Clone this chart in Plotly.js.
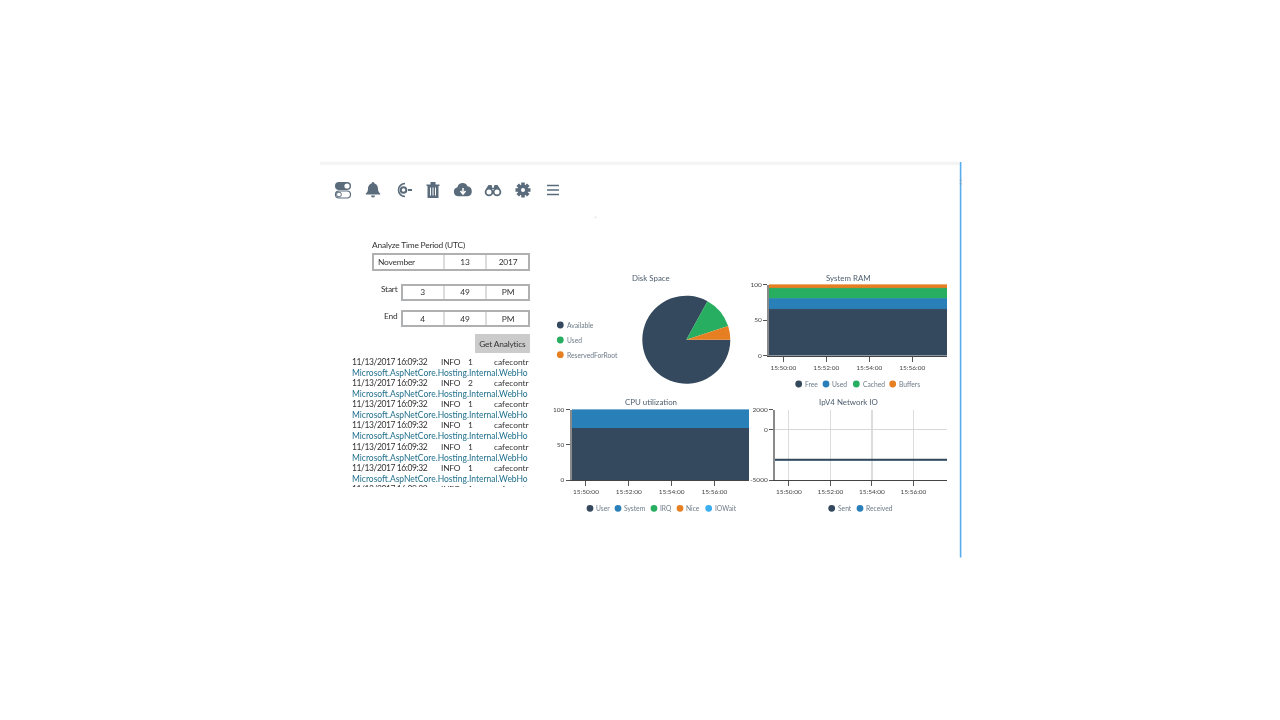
<!DOCTYPE html>
<html><head><meta charset="utf-8">
<script src="https://cdn.plot.ly/plotly-3.0.1.min.js"></script>
<style>
html,body{margin:0;padding:0;background:#fff;overflow:hidden}
#stage{position:relative;width:1280px;height:720px;font-family:Lato,"Noto Sans",sans-serif;filter:blur(.35px)}
#plot{position:absolute;left:0;top:0;width:1280px;height:720px}
#ui{position:absolute;left:0;top:0;width:1280px;height:720px;pointer-events:none;color:#333}
.t{position:absolute;white-space:nowrap;font-size:8.4px;letter-spacing:-.2px;line-height:12px}
.box{position:absolute;box-sizing:border-box;border:2px solid #aeb0b1;background:transparent}
.div{position:absolute;width:2px;background:#dcdcdc}
#log{position:absolute;left:352px;top:355px;width:177px;height:132px;overflow:hidden}
</style></head><body>
<div id="stage"><div id="plot"></div><div id="ui"></div></div>
<script>
const times = ["2017-11-13 15:49:20","2017-11-13 15:50:20","2017-11-13 15:51:20","2017-11-13 15:52:20","2017-11-13 15:53:20","2017-11-13 15:54:20","2017-11-13 15:55:20","2017-11-13 15:56:20","2017-11-13 15:57:37"];
const ramFree    = [65,65,65,65,65,65,65,65,65];
const ramUsed    = [15,15,15,15,15,15,15,15,15];
const ramCached  = [14.5,14.5,14.5,14.5,14.5,14.5,14.5,14.5,14.5];
const ramBuffers = [5.5,5.5,5.5,5.5,5.5,5.5,5.5,5.5,5.5];
const cpuUser    = [73,73,73,73,73,73,73,73,73];
const cpuSystem  = [27,27,27,27,27,27,27,27,27];
const cpuIrq     = [0,0,0,0,0,0,0,0,0];
const cpuNice    = [0,0,0,0,0,0,0,0,0];
const cpuIoWait  = [0,0,0,0,0,0,0,0,0];
const netSent     = [-3000,-3000,-3000,-3000,-3000,-3000,-3000,-3000,-3000];
const netReceived = [-3000,-3000,-3000,-3000,-3000,-3000,-3000,-3000,-3000];
const diskLabels = ["Available","Used","ReservedForRoot"];
const diskValues = [83,12,5];
const ramLabels = ["Free","Used","Cached","Buffers"];
const cpuLabels = ["User","System","IRQ","Nice","IOWait"];
const netLabels = ["Sent","Received"];
const C = {navy:"#34495e",blue:"#2980b9",green:"#27ae60",orange:"#e67e22",sky:"#3aaeef"};
const W=1280,H=720, px=x=>x/W, py=y=>1-y/H;
const RANGE=["2017-11-13 15:49:20","2017-11-13 15:57:37"];
const FONT='Lato,"Noto Sans",sans-serif';

function area(y,name,color,ax,width){return {x:times,y:y,name:name,type:"scatter",mode:"lines",stackgroup:ax,xaxis:"x"+ax,yaxis:"y"+ax,
  line:{color:color,width:width===undefined?1:width},fillcolor:color,hoverinfo:"x+y+name"};}
function line(y,name,color,ax,width){return {x:times,y:y,name:name,type:"scatter",mode:"lines",xaxis:"x"+ax,yaxis:"y"+ax,line:{color:color,width:width}};}
const traces=[
  {type:"pie",labels:diskLabels,values:diskValues,sort:false,direction:"clockwise",rotation:90,textinfo:"none",
   marker:{colors:[C.navy,C.green,C.orange],line:{width:0}},domain:{x:[px(642.3),px(730.3)],y:[py(383.7),py(295.7)]}},
  area(ramFree,ramLabels[0],C.navy,"2"),area(ramUsed,ramLabels[1],C.blue,"2"),area(ramCached,ramLabels[2],C.green,"2"),area(ramBuffers,ramLabels[3],C.orange,"2"),
  area(cpuUser,cpuLabels[0],C.navy,"3"),area(cpuSystem,cpuLabels[1],C.blue,"3"),area(cpuIrq,cpuLabels[2],C.green,"3",0),area(cpuNice,cpuLabels[3],C.orange,"3",0),area(cpuIoWait,cpuLabels[4],C.sky,"3",0),
  line(netReceived,netLabels[1],C.blue,"4",1),line(netSent,netLabels[0],C.navy,"4",2)
];
const tf={family:FONT,size:6.5,color:"#444"};
function xa(l,r,anchor,grid){return {domain:[px(l),px(r)],range:RANGE,type:"date",anchor:anchor,tick0:"2017-11-13 15:50:00",dtick:120000,tickformat:"%H:%M:%S",
  ticks:"outside",ticklen:5,tickwidth:1,tickcolor:"#555",showline:true,linecolor:"#444",linewidth:1,showgrid:grid,gridcolor:"#dcdcdc",gridwidth:1.3,tickfont:tf,zeroline:false,fixedrange:true};}
function ya(t,b,anchor,r,vals,grid){return {domain:[py(b),py(t)],range:r,anchor:anchor,tickmode:"array",tickvals:vals,ticktext:vals.map(String),
  ticks:"outside",ticklen:4,tickwidth:1,tickcolor:"#555",showline:true,linecolor:"#8a8a8a",linewidth:2,showgrid:grid,gridcolor:"#d8d8d8",gridwidth:1,tickfont:tf,zeroline:false,fixedrange:true};}

const annotations=[],shapes=[];
function label(x,y,text,size,color,anchor){annotations.push({xref:"paper",yref:"paper",x:px(x),y:py(y),text:text,showarrow:false,xanchor:anchor||"left",yanchor:"middle",borderpad:0,
  font:{family:FONT,size:size,color:color}});}
function dot(x,y,color){shapes.push({type:"circle",xref:"paper",yref:"paper",x0:px(x-3.4),x1:px(x+3.4),y0:py(y+3.4),y1:py(y-3.4),fillcolor:color,line:{width:0}});}
const TITLE="#4d5d6d",LEG="#6d7b88";
label(650.7,277.5,"Disk Space",7.9,TITLE,"center");
label(848,277.5,"System RAM",7.9,TITLE,"center");
label(650.7,402,"CPU utilization",7.9,TITLE,"center");
label(848,402,"IpV4 Network IO",7.9,TITLE,"center");
function legend(names,cols,dx,dy){names.forEach((n,i)=>{dot(dx[i],dy[i],cols[i]);label(dx[i]+5.3,dy[i],n,6.7,LEG);});}
legend(diskLabels,[C.navy,C.green,C.orange],[560.3,560.3,560.3],[325,340,354.7]);
legend(ramLabels,[C.navy,C.blue,C.green,C.orange],[798.7,826,856.3,892.7],[384,384,384,384]);
legend(cpuLabels,[C.navy,C.blue,C.green,C.orange,C.sky],[590,618,654,680,708.7],[508.3,508.3,508.3,508.3,508.3]);
legend(netLabels,[C.navy,C.blue],[831.7,860],[508.3,508.3]);
// page chrome
function rect(l,t,r,b,c){shapes.push({type:"rect",xref:"paper",yref:"paper",x0:px(l),x1:px(r),y0:py(b),y1:py(t),fillcolor:c,line:{width:0}});}
rect(320,161.7,959.500,165,"#f4f4f4");
rect(959.800,162,961.400,557.500,"#58aeec");
rect(959.800,179.500,961.400,181,"#7f9fb5");
rect(959.800,183,961.400,184.500,"#7f9fb5");
rect(594.500,216.500,596.500,218,"#e6e6e6");

const layout={width:W,height:H,margin:{l:0,r:0,t:0,b:0},paper_bgcolor:"#fff",plot_bgcolor:"#fff",showlegend:false,
  xaxis2:xa(769,947,"y2",false),yaxis2:ya(284.5,355.7,"x2",[0,100],[0,50,100],false),
  xaxis3:xa(571.7,749,"y3",false),yaxis3:ya(409.5,480,"x3",[0,100],[0,50,100],false),
  xaxis4:xa(775,947,"y4",true),yaxis4:ya(409.5,480,"x4",[-5000,2000],[2000,0,-5000],true),
  annotations:annotations,shapes:shapes};
Plotly.newPlot("plot",traces,layout,{displayModeBar:false,staticPlot:true});

// surrounding form
const ui=document.getElementById("ui");
function T(x,y,s,opt){opt=opt||{};const e=document.createElement("div");e.className="t";e.textContent=s;e.style.top=(y-6)+"px";
  if(opt.align==="center"){e.style.left=(x-50)+"px";e.style.width="100px";e.style.textAlign="center";}
  else if(opt.align==="right"){e.style.right=(1280-x)+"px";} else e.style.left=x+"px";
  if(opt.color)e.style.color=opt.color;
  if(opt.size)e.style.fontSize=opt.size+"px";
  if(opt.ls!==undefined)e.style.letterSpacing=opt.ls+"px";
  (opt.parent||ui).appendChild(e);return e;}
function box(l,t,r,b,dividers){const e=document.createElement("div");e.className="box";e.style.cssText=`left:${l}px;top:${t}px;width:${r-l}px;height:${b-t}px`;ui.appendChild(e);
  dividers.forEach(d=>{const v=document.createElement("div");v.className="div";v.style.cssText=`left:${d-1}px;top:${t+2}px;height:${b-t-4}px`;ui.appendChild(v);});}
T(372,245,"Analyze Time Period (UTC)");
box(372,253,530,270.5,[444,486]);T(378,261.5,"November");T(465,261.5,"13",{align:"center"});T(508,261.5,"2017",{align:"center"});
T(397.5,289,"Start",{align:"right"});
box(401,283.5,530,300.5,[444,486]);T(422.5,292,"3",{align:"center"});T(465,292,"49",{align:"center"});T(508,292,"PM",{align:"center"});
T(397.5,316,"End",{align:"right"});
box(401,310,530,327,[444,486]);T(422.5,318.5,"4",{align:"center"});T(465,318.5,"49",{align:"center"});T(508,318.5,"PM",{align:"center"});
const btn=document.createElement("div");btn.style.cssText="position:absolute;left:475px;top:334px;width:55px;height:18.5px;background:#cbcbcb";ui.appendChild(btn);
T(502.3,343.5,"Get Analytics",{align:"center"});

const logLevels=["1","2","1","1","1","1","1"];
const log=document.createElement("div");log.id="log";ui.appendChild(log);
logLevels.forEach((n,i)=>{
  const y0=361.7+i*21.25-355, y1=y0+11;
  T(0,y0,"11/13/2017 16:09:32",{parent:log,size:8.5,ls:-.42});T(89,y0,"INFO",{parent:log});T(116,y0,n,{parent:log});T(142,y0,"cafecontr",{parent:log,ls:0});
  T(0,y1,"Microsoft.AspNetCore.Hosting.Internal.WebHo",{parent:log,color:"#1f6f8b",size:8.5,ls:0});
});

// toolbar icons
const IC="#5a6b7c";
const icons=[
 [343,`<rect x="-8" y="-8" width="16" height="8" rx="4" fill="${IC}"/><circle cx="4" cy="-4" r="2.6" fill="#fff"/><rect x="-7.5" y="1" width="15" height="7" rx="3.5" fill="#fff" stroke="${IC}" stroke-width="1.2"/><circle cx="-4" cy="4.5" r="2.4" fill="none" stroke="${IC}" stroke-width="1"/>`],
 [373,`<path d="M0-8a1.5 1.5 0 0 1 1.5 1.5C4.5-5.5 5-3 5-1c0 2.5 1 3.5 2.2 4.5v1H-7.2v-1C-6 2.500-5 1.500-5-1c0-2 .5-4.500 3.500-5.500A1.500 1.500 0 0 1 0-8zM-2 5.500h4a2 2 0 0 1-4 0z" fill="${IC}"/>`],
 [403,`<path d="M2-6.500A6.500 6.500 0 1 0 2 6.500" fill="none" stroke="${IC}" stroke-width="1.600"/><circle cx="0.500" cy="0" r="2.800" fill="none" stroke="${IC}" stroke-width="2"/><rect x="5" y="-1" width="4" height="2" fill="${IC}"/>`],
 [433,`<path d="M-6.500-5.500h13v1.500h-1V8h-11V-4h-1zM-2.500-8h5v2.500h-5z" fill="${IC}"/><path d="M-2.500-2.500v8M0-2.500v8M2.500-2.500v8" stroke="#fff" stroke-width="1"/>`],
 [463,`<path d="M-4 5.500a4 4 0 0 1-.8-7.900 4.500 4.500 0 0 1 8.600-.8A4.400 4.400 0 0 1 4 5.500z" transform="scale(1.150)" fill="${IC}"/><path d="M0-2v5M-2.500 1 0 4 2.500 1" stroke="#fff" stroke-width="1.500" fill="none"/>`],
 [493,`<circle cx="-4" cy="2" r="3.400" fill="none" stroke="${IC}" stroke-width="1.800"/><circle cx="4" cy="2" r="3.400" fill="none" stroke="${IC}" stroke-width="1.800"/><path d="M-7-1-4.500-5h3l1 3h1l1-3h3L7-1z" fill="${IC}"/>`],
 [523,`<g fill="${IC}"><circle r="5.200"/><rect x="-1.800" y="-7.500" width="3.600" height="15"/><rect x="-1.800" y="-7.500" width="3.600" height="15" transform="rotate(45)"/><rect x="-1.800" y="-7.500" width="3.600" height="15" transform="rotate(90)"/><rect x="-1.800" y="-7.500" width="3.600" height="15" transform="rotate(135)"/></g><circle r="2" fill="#fff"/>`],
 [553,`<path d="M-6-4.500H6M-6 0H6M-6 4.500H6" stroke="${IC}" stroke-width="1.700"/>`]
];
const svg=icons.map(([x,s])=>`<g transform="translate(${x},190)">${s}</g>`).join("");
const sv=document.createElementNS("http://www.w3.org/2000/svg","svg");sv.setAttribute("width",1280);sv.setAttribute("height",720);sv.style.cssText="position:absolute;left:0;top:0";sv.innerHTML=svg;ui.appendChild(sv);
</script></body></html>
